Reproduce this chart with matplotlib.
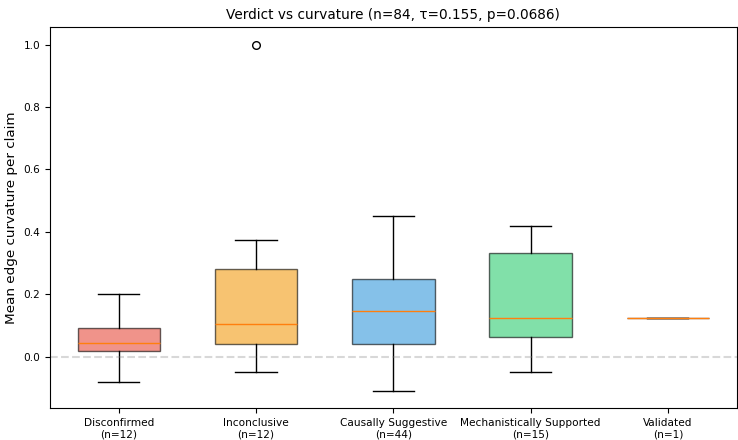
import matplotlib
matplotlib.use("Agg")
import matplotlib.pyplot as plt

# verdict categories and box stats
verdicts = ["Disconfirmed", "Inconclusive", "Causally Suggestive",
            "Mechanistically Supported", "Validated"]
counts = [12, 12, 44, 15, 1]
medians = [0.042, 0.105, 0.146, 0.124, 0.124]
q1 = [0.018, 0.041, 0.041, 0.064, 0.124]
q3 = [0.092, 0.282, 0.249, 0.331, 0.124]
whis_lo = [-0.081, -0.051, -0.109, -0.051, 0.124]
whis_hi = [0.200, 0.375, 0.451, 0.417, 0.124]
fliers = [[], [1.0], [], [], []]
colors = ["#E74C3C", "#F39C12", "#3498DB", "#2ECC71", "#9B59B6"]

stats = []
for i, v in enumerate(verdicts):
    stats.append({
        "label": f"{v}\n(n={counts[i]})",
        "med": medians[i], "q1": q1[i], "q3": q3[i],
        "whislo": whis_lo[i], "whishi": whis_hi[i],
        "fliers": fliers[i],
    })

fig, ax = plt.subplots(figsize=(7.38, 4.4), dpi=100)
bp = ax.bxp(stats, widths=0.6, patch_artist=True, showfliers=True,
            flierprops={"markersize": 5.5})
for patch, c in zip(bp["boxes"], colors):
    patch.set_facecolor(c)
    patch.set_alpha(0.6)

ax.axhline(0, color="gray", linestyle="--", alpha=0.3)
ax.set_ylabel("Mean edge curvature per claim", fontsize=9.7)
ax.set_title("Verdict vs curvature (n=84, \u03c4=0.155, p=0.0686)", fontsize=9.8)
ax.tick_params(axis="both", labelsize=7.6)

plt.subplots_adjust(left=0.068, right=0.998, top=0.938, bottom=0.073)
plt.savefig("out.png", dpi=100)
